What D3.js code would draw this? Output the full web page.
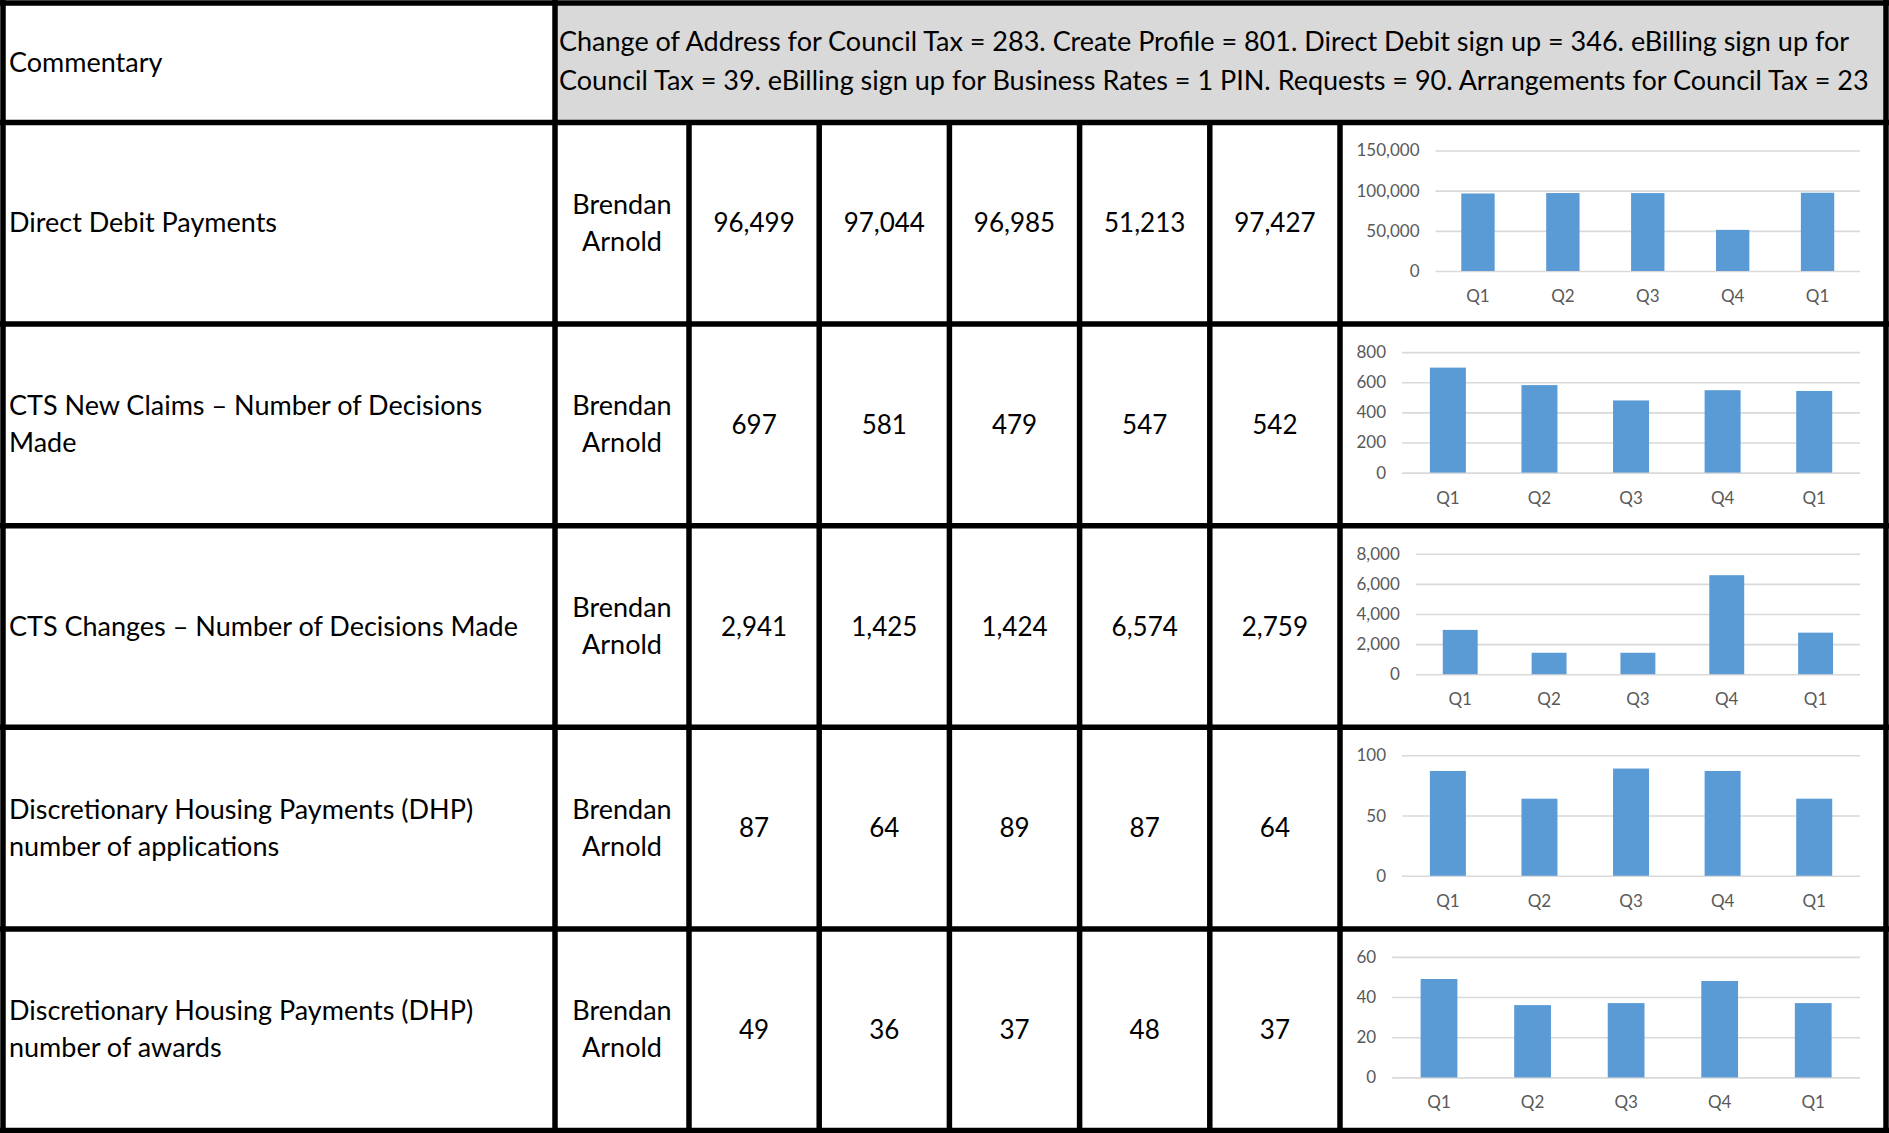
<!DOCTYPE html>
<html>
<head>
<meta charset="utf-8">
<script src="https://cdnjs.cloudflare.com/ajax/libs/d3/7.8.5/d3.min.js"></script>
<style>
  body { margin: 0; background: #fff; }
  svg { display: block; font-family: Lato, "Open Sans", sans-serif; }
</style>
</head>
<body>
<div id="chart"></div>
<script>
// ---- table content ----
const measures = [
  ["Direct Debit Payments"],
  ["CTS New Claims \u2013 Number of Decisions", "Made"],
  ["CTS Changes \u2013 Number of Decisions Made"],
  ["Discretionary Housing Payments (DHP)", "number of applications"],
  ["Discretionary Housing Payments (DHP)", "number of awards"]
];
const owner = ["Brendan", "Arnold"];
const quarters = ["Q1", "Q2", "Q3", "Q4", "Q1"];

const directDebit = [96499, 97044, 96985, 51213, 97427];
const ctsNewClaims = [697, 581, 479, 547, 542];
const ctsChanges = [2941, 1425, 1424, 6574, 2759];
const dhpApplications = [87, 64, 89, 87, 64];
const dhpAwards = [49, 36, 37, 48, 37];

const yTicks = [
  [0, 50000, 100000, 150000],
  [0, 200, 400, 600, 800],
  [0, 2000, 4000, 6000, 8000],
  [0, 50, 100],
  [0, 20, 40, 60]
];

const commentary = [
  "Change of Address for Council Tax = 283. Create Profile = 801. Direct Debit sign up = 346. eBilling sign up for",
  "Council Tax = 39. eBilling sign up for Business Rates = 1 PIN. Requests = 90. Arrangements for Council Tax = 23"
];

const series = [directDebit, ctsNewClaims, ctsChanges, dhpApplications, dhpAwards];

// ---- layout ----
const width = 1889, height = 1133;
const headerBottom = 122.5;
const rowH = 201.6;
const labelRight = 555, ownerRight = 689, numW = 130.2;
const rightEdge = 1886;
const lineW = 5.5;
const fs = 27, numFs = 26, lineGap = 37, tickFs = 17;

const rowTop = i => headerBottom + i * rowH;
const colEdges = [3, labelRight, ownerRight].concat(d3.range(1, 6).map(k => ownerRight + k * numW), [rightEdge]);
const rowEdges = [3, headerBottom].concat(d3.range(1, 6).map(k => headerBottom + k * rowH));

const svg = d3.select("#chart").append("svg")
    .attr("width", width)
    .attr("height", height);

// commentary cell background
svg.append("rect")
    .attr("x", labelRight).attr("y", 3)
    .attr("width", rightEdge - labelRight).attr("height", headerBottom - 3)
    .attr("fill", "#d9d9d9");

svg.append("text")
    .attr("x", 9).attr("y", (3 + headerBottom) / 2 + 9)
    .attr("font-size", fs)
    .text("Commentary");

svg.selectAll(".comm")
  .data(commentary)
  .join("text")
    .attr("class", "comm")
    .attr("x", 559)
    .attr("y", (d, i) => 51 + i * 38.5)
    .attr("font-size", fs)
    .text(d => d);

// body rows
measures.forEach((lines, i) => {
  const top = rowTop(i);
  const mid = top + rowH / 2;

  const g = svg.append("g");

  // measure name, left aligned
  g.selectAll(".m")
    .data(lines)
    .join("text")
      .attr("x", 9)
      .attr("y", (d, k) => mid + 9 + (k - (lines.length - 1) / 2) * lineGap)
      .attr("font-size", fs)
      .text(d => d);

  // owner
  g.selectAll(".o")
    .data(owner)
    .join("text")
      .attr("x", (labelRight + ownerRight) / 2)
      .attr("y", (d, k) => mid + 9 + (k - 0.5) * lineGap)
      .attr("text-anchor", "middle")
      .attr("font-size", fs)
      .text(d => d);

  // quarter values
  g.selectAll(".v")
    .data(series[i])
    .join("text")
      .attr("x", (d, k) => ownerRight + (k + 0.5) * numW)
      .attr("y", mid + 9)
      .attr("text-anchor", "middle")
      .attr("font-size", numFs)
      .text(d => d3.format(",")(d));

  // ---- mini bar chart ----
  const chart = svg.append("g");
  const ticks = yTicks[i];
  const fmt = d3.format(",");

  // measure the widest tick label so the plot starts where Excel would put it
  const probe = chart.append("text").attr("font-size", tickFs);
  const maxW = d3.max(ticks, t => { probe.text(fmt(t)); return probe.node().getComputedTextLength(); });
  probe.remove();

  const plotTop = top + 28;
  const plotBottom = plotTop + 120.5;
  const plotLeft = 1357 + maxW + 15.5;
  const plotRight = 1860;

  const x = d3.scaleBand()
      .domain(d3.range(quarters.length))
      .range([plotLeft, plotRight])
      .paddingInner(0.607)
      .paddingOuter(0.3035);

  const y = d3.scaleLinear()
      .domain([0, d3.max(ticks)])
      .range([plotBottom, plotTop]);

  const yAxis = chart.append("g")
      .attr("transform", "translate(" + plotLeft + ",0)")
      .call(d3.axisLeft(y)
        .tickValues(ticks)
        .tickFormat(fmt)
        .tickSizeInner(-(plotRight - plotLeft))
        .tickSizeOuter(0)
        .tickPadding(16));
  yAxis.select(".domain").remove();
  yAxis.selectAll("line").attr("stroke", "#d9d9d9").attr("stroke-width", 1.6);
  yAxis.selectAll("text").attr("font-size", tickFs).attr("fill", "#595959").attr("font-family", "Lato, sans-serif");

  chart.selectAll(".bar")
    .data(series[i])
    .join("rect")
      .attr("class", "bar")
      .attr("x", (d, k) => x(k))
      .attr("width", x.bandwidth())
      .attr("y", d => y(d))
      .attr("height", d => y(0) - y(d))
      .attr("fill", "#5b9bd5");

  const xAxis = chart.append("g")
      .attr("transform", "translate(0," + plotBottom + ")")
      .call(d3.axisBottom(x)
        .tickFormat(k => quarters[k])
        .tickSize(0)
        .tickPadding(19));
  xAxis.select(".domain").remove();
  xAxis.selectAll("text").attr("font-size", tickFs).attr("fill", "#595959").attr("font-family", "Lato, sans-serif");
});

// ---- table rules ----
svg.append("g")
  .selectAll("line")
  .data(rowEdges)
  .join("line")
    .attr("x1", 0).attr("x2", width)
    .attr("y1", d => d).attr("y2", d => d)
    .attr("stroke", "#000").attr("stroke-width", lineW);

const vLines = colEdges.map((x, k) => ({
  x: x,
  // the owner/number/chart dividers start below the commentary row
  y1: (k >= 2 && k < colEdges.length - 1) ? headerBottom : 0
}));
svg.append("g")
  .selectAll("line")
  .data(vLines)
  .join("line")
    .attr("x1", d => d.x).attr("x2", d => d.x)
    .attr("y1", d => d.y1).attr("y2", height)
    .attr("stroke", "#000").attr("stroke-width", lineW);
</script>
</body>
</html>
